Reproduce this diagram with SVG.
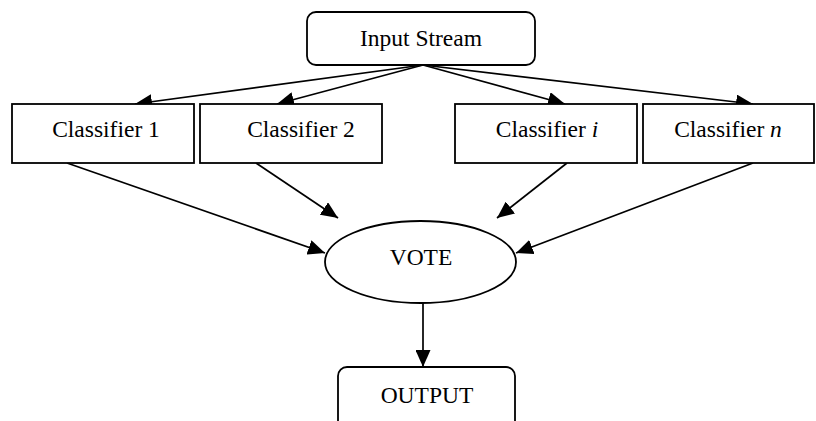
<svg xmlns="http://www.w3.org/2000/svg" width="816" height="421" viewBox="0 0 816 421">
  <style>
    .box { fill: #fff; stroke: #000; stroke-width: 1.8; }
    .lbl { font-family: "Liberation Serif", "Times New Roman", serif; font-size: 23.5px; fill: #000; text-anchor: middle; }
    .var { font-style: italic; }
    .edge { fill: none; stroke: #000; stroke-width: 1.7; marker-end: url(#arrow); }
  </style>
  <defs>
    <marker id="arrow" markerUnits="userSpaceOnUse" markerWidth="18" markerHeight="15" refX="17" refY="7.5" orient="auto">
      <path d="M0,0 L17,7.5 L0,15 z" fill="#000"/>
    </marker>
  </defs>
  <rect width="816" height="421" fill="#fff"/>

  <g id="connectors">
    <line class="edge" x1="423" y1="65" x2="135" y2="104"/>
    <line class="edge" x1="423" y1="65" x2="277" y2="104"/>
    <line class="edge" x1="423" y1="65" x2="565" y2="104"/>
    <line class="edge" x1="423" y1="65" x2="753" y2="104"/>
    <line class="edge" x1="67" y1="163" x2="325" y2="253"/>
    <line class="edge" x1="256" y1="163" x2="338" y2="218"/>
    <line class="edge" x1="567" y1="163" x2="497" y2="218"/>
    <line class="edge" x1="753" y1="163" x2="516" y2="253"/>
    <line class="edge" x1="423" y1="303" x2="423" y2="367"/>
  </g>

  <g id="input-stream">
    <rect class="box" x="307" y="12" width="228" height="53" rx="9"/>
    <text class="lbl" x="421" y="46">Input Stream</text>
  </g>

  <g id="classifier-1">
    <rect class="box" x="12" y="104" width="182" height="59"/>
    <text class="lbl" x="106" y="137">Classifier 1</text>
  </g>

  <g id="classifier-2">
    <rect class="box" x="200" y="104" width="182" height="59"/>
    <text class="lbl" x="301" y="137">Classifier 2</text>
  </g>

  <g id="classifier-i">
    <rect class="box" x="455" y="104" width="182" height="59"/>
    <text class="lbl" x="547" y="137">Classifier <tspan class="var">i</tspan></text>
  </g>

  <g id="classifier-n">
    <rect class="box" x="643" y="104" width="171" height="59"/>
    <text class="lbl" x="728" y="137">Classifier <tspan class="var">n</tspan></text>
  </g>

  <g id="vote">
    <ellipse class="box" cx="420.5" cy="262" rx="95.5" ry="41"/>
    <text class="lbl" x="421" y="265">VOTE</text>
  </g>

  <g id="output">
    <rect class="box" x="338" y="367" width="177" height="70" rx="9"/>
    <text class="lbl" x="427" y="403">OUTPUT</text>
  </g>
</svg>
